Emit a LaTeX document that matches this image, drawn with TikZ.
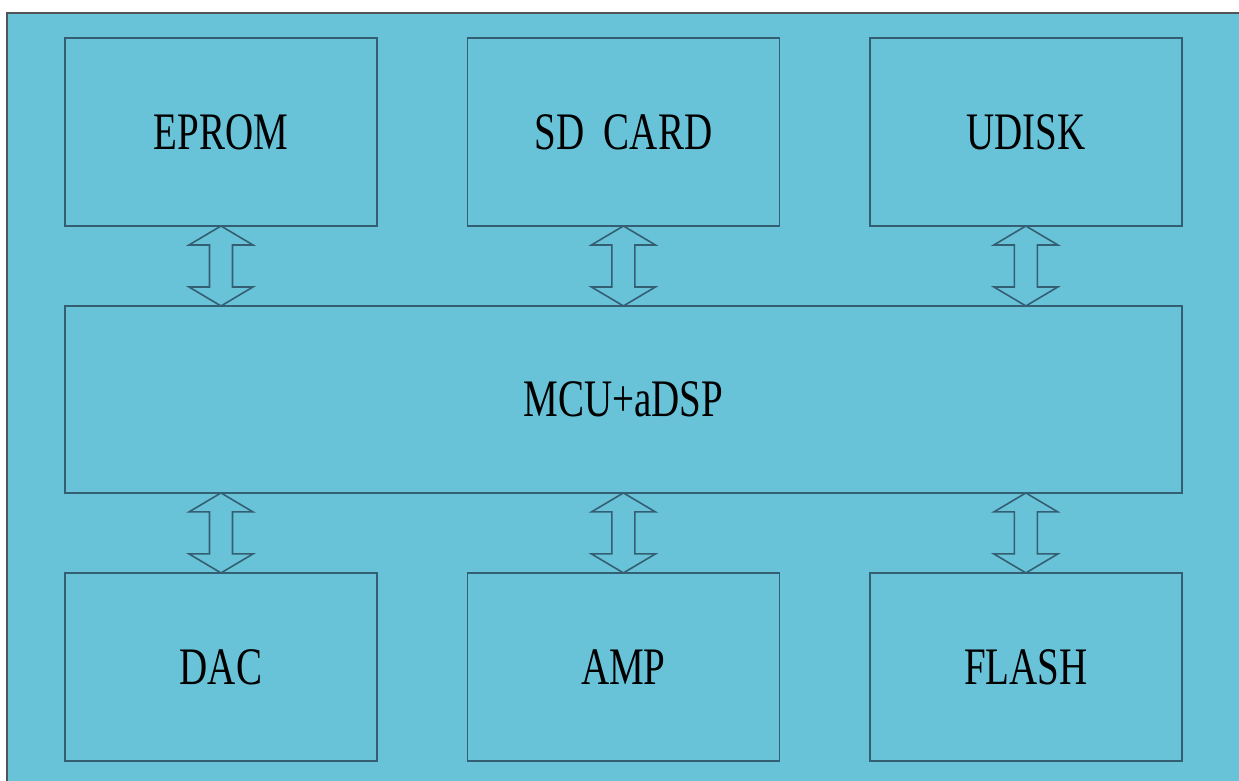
\documentclass[tikz,border=0pt]{standalone}
\usepackage{fontspec}
\usepackage{xcolor}
\usepackage{tikz}
\usetikzlibrary{positioning,calc}
\newfontfamily\boxfont[FakeStretch=0.74]{Liberation Serif}
\definecolor{panelbg}{RGB}{104,194,216}
\definecolor{edgec}{RGB}{52,94,114}
\definecolor{framec}{RGB}{80,84,88}

\begin{document}
\begin{tikzpicture}[
  x=0.02cm, y=-0.02cm,
  node distance=1.6cm and 1.81cm,
  font=\boxfont\fontsize{30}{36}\selectfont,
  unit/.style={rectangle,draw=edgec,line width=0.9pt,align=center,minimum width=6.24cm,minimum height=3.76cm,inner sep=0pt,outer sep=0pt},
  core/.style={unit,minimum width=22.34cm,minimum height=3.74cm},
  bus/.style={draw=edgec,line width=0.9pt,fill=panelbg,line join=miter,
    to path={(\tikztostart) -- ($(\tikztostart)+(32,19)$) -- ($(\tikztostart)+(11.5,19)$)
      -- ($(\tikztotarget)+(11.5,-19)$) -- ($(\tikztotarget)+(32,-19)$) -- (\tikztotarget)
      -- ($(\tikztotarget)+(-32,-19)$) -- ($(\tikztotarget)+(-11.5,-19)$)
      -- ($(\tikztostart)+(-11.5,19)$) -- ($(\tikztostart)+(-32,19)$) -- cycle}}
]
\useasboundingbox (0,0) rectangle (1239,780);
\fill[white] (0,0) rectangle (1239,780);
\node[draw=framec,line width=1.3pt,fill=panelbg,minimum width=25cm,minimum height=15.8cm,anchor=north west,inner sep=0pt] (panel) at (6,12) {};

\node[unit] (eprom) at (221,132) {EPROM};
\node[unit,right=of eprom] (sdcard) {SD~~CARD};
\node[unit,right=of sdcard] (udisk) {UDISK};
\node[core,below=of sdcard] (mcu) {MCU+aDSP};
\node[unit,below=of mcu] (amp) {AMP};
\node[unit,left=of amp] (dac) {DAC};
\node[unit,right=of amp] (flash) {FLASH};

\draw[bus] (eprom.south) to (mcu.north -| eprom.south);
\draw[bus] (sdcard.south) to (mcu.north -| sdcard.south);
\draw[bus] (udisk.south) to (mcu.north -| udisk.south);
\draw[bus] (mcu.south -| dac.north) to (dac.north);
\draw[bus] (mcu.south -| amp.north) to (amp.north);
\draw[bus] (mcu.south -| flash.north) to (flash.north);
\end{tikzpicture}
\end{document}
